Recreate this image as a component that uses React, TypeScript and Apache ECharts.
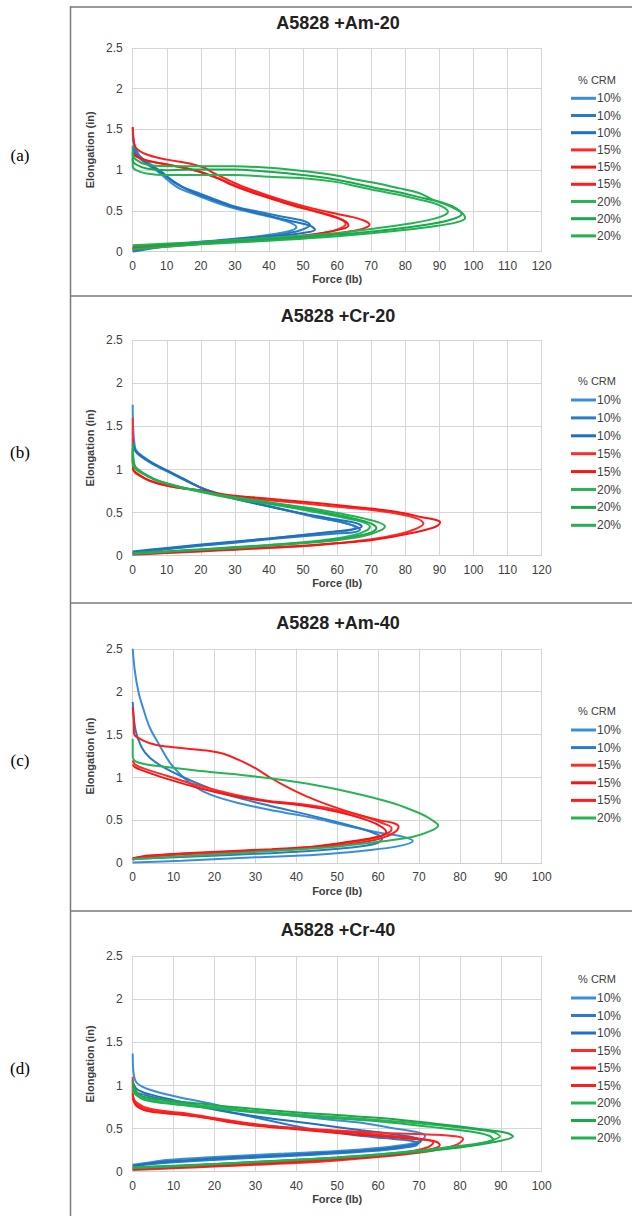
import React, { useEffect, useRef } from "react";
import * as echarts from "echarts";

// ---------- DATA ----------
const panelTitles = ["A5828 +Am-20", "A5828 +Cr-20", "A5828 +Am-40", "A5828 +Cr-40"];
const panelLetters = ["(a)", "(b)", "(c)", "(d)"];
const xMaxes = [120, 120, 100, 100];
const yTicksMax = 2.5;
const legendTitle = "% CRM";
const xAxisName = "Force (lb)";
const yAxisName = "Elongation (in)";

// Panel (a) A5828 +Am-20 : [force, elongation]
const aBlue1 = [[0,0.01],[8,0.06],[15,0.1],[25,0.14],[35,0.18],[42,0.22],[46.5,0.26],[48,0.3],[46.5,0.35],[42,0.41],[36,0.47],[30,0.53],[24,0.61],[19,0.69],[14,0.77],[10.5,0.87],[7.5,0.98],[4,1.08],[1.2,1.2],[0.3,1.32],[0,1.45]];
const aBlue2 = [[0,0.0],[8,0.055],[15,0.09],[25,0.13],[35,0.17],[43,0.21],[49,0.26],[52,0.33],[50,0.38],[44,0.43],[37,0.49],[30.5,0.55],[25,0.63],[20,0.71],[15,0.79],[11.5,0.88],[8.5,0.98],[5,1.08],[2,1.18],[0.5,1.3],[0,1.52]];
const aBlue3 = [[0,0.03],[8,0.07],[15,0.1],[25,0.135],[35,0.17],[44,0.2],[50,0.23],[53.5,0.27],[52,0.32],[47,0.37],[41,0.43],[34,0.5],[28,0.57],[22,0.66],[17,0.74],[12.5,0.84],[9,0.95],[5.5,1.05],[2.5,1.13],[0.8,1.2],[0,1.28]];
const aRed1 = [[0,0.03],[10,0.065],[20,0.095],[30,0.125],[40,0.155],[50,0.19],[56,0.23],[60.5,0.28],[62.5,0.34],[61,0.4],[57,0.46],[51,0.53],[45,0.61],[39,0.69],[33,0.77],[28,0.85],[24,0.92],[20,0.98],[15,1.03],[9,1.08],[4,1.12],[1,1.17],[0,1.22]];
const aRed2 = [[0,0.04],[10,0.07],[20,0.1],[30,0.13],[40,0.16],[50,0.2],[57,0.24],[61.5,0.28],[63.3,0.32],[62,0.38],[58,0.44],[52,0.51],[46,0.58],[40,0.66],[34,0.74],[29,0.82],[25,0.9],[21,0.96],[16,1.02],[10,1.07],[5,1.11],[1.5,1.16],[0,1.2]];
const aRed3 = [[0,0.05],[10,0.075],[20,0.1],[30,0.125],[40,0.15],[50,0.18],[58,0.21],[64,0.25],[68,0.29],[69.5,0.33],[68,0.38],[64,0.43],[58,0.48],[51,0.55],[45,0.62],[39,0.7],[33,0.79],[28,0.88],[24,0.96],[21,1.03],[17,1.08],[10,1.13],[5,1.18],[1.5,1.25],[0.5,1.32],[0,1.53]];
const aGreen1 = [[0,0.08],[20,0.12],[40,0.17],[60,0.23],[72,0.29],[82,0.35],[88,0.4],[91.5,0.45],[92.5,0.49],[91,0.55],[88,0.6],[84,0.64],[78,0.7],[71.6,0.75],[65,0.81],[59,0.86],[50,0.9],[40,0.92],[29.5,0.94],[18,0.94],[10,0.94],[4,0.96],[1,1.0],[0,1.05],[0,1.15]];
const aGreen2 = [[0,0.06],[20,0.11],[40,0.155],[60,0.21],[75,0.27],[86,0.33],[93,0.39],[96.5,0.46],[95,0.53],[91,0.6],[84,0.67],[78,0.73],[71.6,0.78],[65,0.84],[59,0.89],[50,0.94],[40,0.98],[29.5,1.01],[18,1.01],[10,1.0],[4,1.02],[1,1.07],[0,1.12],[0,1.22]];
const aGreen3 = [[0,0.03],[20,0.09],[40,0.135],[60,0.19],[76,0.25],[88,0.31],[95,0.36],[97.5,0.41],[96.5,0.48],[93,0.56],[88,0.64],[84,0.72],[78,0.78],[71.6,0.84],[65,0.89],[59,0.94],[50,0.99],[40,1.03],[29.5,1.05],[18,1.05],[10,1.05],[4,1.07],[1,1.13],[0,1.2],[0,1.3]];

// Panel (b) A5828 +Cr-20
const bBlue1 = [[0,0.04],[10,0.08],[20,0.12],[30,0.16],[40,0.2],[50,0.24],[58,0.27],[63,0.29],[65.5,0.32],[64,0.36],[59,0.41],[53,0.45],[45,0.53],[37.5,0.6],[29.5,0.67],[24.5,0.73],[20,0.79],[15,0.89],[10,0.99],[6,1.07],[3,1.15],[0.7,1.25],[0,1.75]];
const bBlue2 = [[0,0.03],[10,0.075],[20,0.115],[30,0.15],[40,0.19],[50,0.225],[59,0.255],[64.5,0.27],[66.7,0.3],[65.5,0.34],[61,0.39],[55,0.44],[47,0.51],[39,0.58],[31,0.65],[25.5,0.71],[21,0.77],[16,0.86],[11,0.96],[7,1.04],[3.5,1.12],[1,1.2],[0,1.3]];
const bBlue3 = [[0,0.05],[10,0.09],[20,0.13],[30,0.165],[40,0.2],[50,0.24],[59,0.28],[65,0.31],[67.2,0.34],[65.5,0.38],[60,0.42],[54,0.46],[46,0.52],[38,0.59],[30,0.66],[25,0.72],[20.5,0.78],[15.5,0.88],[10.5,0.98],[6.5,1.06],[3.2,1.14],[0.8,1.22],[0,1.35]];
const bRed1 = [[0,0.01],[10,0.03],[20,0.05],[30,0.07],[40,0.09],[50,0.11],[60,0.145],[70,0.19],[78,0.25],[83,0.31],[85.3,0.37],[83.5,0.43],[78.5,0.48],[69,0.535],[59,0.57],[49,0.61],[39,0.645],[30,0.68],[24,0.72],[19.8,0.76],[14.9,0.78],[10,0.81],[5,0.87],[2,0.93],[0.3,0.98],[0,1.1],[0,1.6]];
const bRed2 = [[0,0.02],[10,0.035],[20,0.055],[30,0.075],[40,0.095],[50,0.115],[60,0.145],[70,0.18],[79,0.24],[86,0.3],[89.5,0.35],[90.2,0.39],[88.5,0.42],[84.5,0.45],[80,0.49],[73.5,0.53],[64,0.57],[54,0.61],[44,0.645],[34.5,0.68],[27,0.71],[21,0.75],[15,0.78],[10,0.815],[5,0.87],[2,0.935],[0.3,0.99],[0,1.02]];
const bGreen1 = [[0,0.03],[10,0.05],[20,0.075],[30,0.1],[40,0.125],[50,0.155],[58,0.19],[65,0.24],[68.5,0.29],[69.6,0.34],[67.5,0.39],[63,0.43],[57,0.48],[49,0.54],[40,0.6],[30,0.66],[20,0.74],[13,0.8],[8,0.86],[4,0.93],[1,1.0],[0,1.08],[0,1.22]];
const bGreen2 = [[0,0.025],[10,0.048],[20,0.07],[30,0.095],[40,0.12],[50,0.15],[59,0.185],[66,0.23],[70,0.27],[71.5,0.32],[69.5,0.38],[65,0.43],[58,0.49],[50,0.55],[40,0.61],[30,0.67],[20,0.75],[12.5,0.81],[7.5,0.87],[3.5,0.95],[1,1.02],[0,1.1],[0,1.25]];
const bGreen3 = [[0,0.02],[10,0.045],[20,0.068],[30,0.09],[40,0.115],[50,0.145],[60,0.18],[68,0.23],[72.5,0.29],[74,0.34],[72,0.39],[68,0.43],[62,0.48],[54,0.54],[45,0.59],[35,0.65],[25,0.71],[17,0.77],[11,0.83],[6,0.89],[2.5,0.97],[0.7,1.03],[0,1.3]];

// Panel (c) A5828 +Am-40
const cBlue1 = [[0,0.01],[12,0.03],[30,0.07],[45,0.1],[57,0.15],[65,0.2],[68.5,0.26],[66,0.31],[60,0.36],[52,0.44],[44,0.53],[35,0.61],[26,0.7],[19,0.8],[15,0.9],[12,1.02],[9,1.18],[6.5,1.38],[4.2,1.58],[2.6,1.8],[1.4,2.0],[0.5,2.25],[0,2.5]];
const cBlue2 = [[0,0.05],[15,0.08],[30,0.11],[45,0.15],[56,0.2],[60,0.24],[61,0.29],[58,0.37],[51.5,0.46],[42.5,0.57],[34.5,0.66],[24.5,0.78],[18,0.89],[12.5,1.0],[7.5,1.12],[4.2,1.23],[2.2,1.35],[0.7,1.55],[0,1.88]];
const cRed1 = [[0,0.05],[3,0.08],[16,0.12],[33,0.155],[44,0.19],[54,0.25],[60,0.31],[63,0.37],[63.3,0.41],[61,0.47],[57,0.54],[49,0.63],[41,0.69],[33,0.73],[25,0.8],[16.5,0.9],[8.3,1.02],[3,1.1],[0.6,1.15],[0,1.2]];
const cRed2 = [[0,0.06],[4,0.09],[18,0.13],[34,0.165],[45,0.2],[54,0.26],[60,0.31],[62,0.36],[61,0.42],[57.5,0.5],[50,0.6],[42,0.67],[33,0.72],[24,0.79],[16,0.88],[8,0.99],[2.5,1.08],[0.5,1.12],[0,1.15]];
const cRed3 = [[0,0.04],[3,0.07],[15,0.11],[32,0.145],[44,0.18],[54,0.23],[60.5,0.29],[64,0.36],[65,0.43],[63.7,0.47],[60.5,0.5],[55.6,0.56],[49,0.66],[42.5,0.78],[37.7,0.89],[33.6,1.0],[30.3,1.1],[26.2,1.2],[22,1.28],[18.9,1.31],[12.4,1.34],[8.3,1.36],[4.2,1.4],[1,1.47],[0.3,1.52],[0.3,1.6],[0,1.82]];
const cGreen1 = [[0,0.05],[4,0.06],[15,0.09],[26,0.12],[38,0.155],[49,0.19],[60,0.25],[68.6,0.31],[73,0.38],[74.7,0.44],[73,0.51],[70.3,0.58],[63.7,0.7],[54,0.82],[42.5,0.93],[30.3,1.01],[18,1.07],[6.7,1.13],[1,1.18],[0,1.25],[0,1.45]];

// Panel (d) A5828 +Cr-40
const dBlue1 = [[0,0.08],[3,0.1],[8.3,0.135],[20,0.17],[37,0.21],[53,0.25],[63,0.29],[68.5,0.33],[71,0.38],[71.5,0.42],[69.4,0.46],[63,0.51],[57,0.56],[49,0.6],[41,0.64],[33,0.68],[26,0.72],[19,0.79],[10.8,0.87],[4.2,0.95],[1,1.03],[0.2,1.15],[0,1.37]];
const dBlue2 = [[0,0.06],[3,0.08],[10,0.11],[25,0.15],[42,0.19],[56,0.23],[65,0.27],[69,0.3],[69.8,0.33],[68,0.36],[61.3,0.39],[55,0.42],[49,0.46],[41,0.52],[32.8,0.6],[24.6,0.68],[16.5,0.75],[8.3,0.83],[3,0.89],[0.5,0.93],[0,0.98]];
const dBlue3 = [[0,0.07],[3,0.09],[9,0.12],[22,0.16],[40,0.2],[55,0.24],[64,0.28],[69,0.32],[70.5,0.36],[68.5,0.4],[63,0.44],[56,0.48],[48,0.53],[40,0.58],[32,0.63],[24,0.69],[17,0.76],[10,0.83],[4,0.9],[1,0.96],[0,1.05]];
const dRed1 = [[0,0.02],[10,0.04],[20,0.06],[30,0.08],[40,0.1],[50,0.13],[60,0.17],[70,0.22],[76,0.27],[79.5,0.32],[80.8,0.38],[79,0.41],[73.5,0.43],[61.3,0.45],[49,0.48],[36.8,0.52],[28.7,0.56],[23,0.6],[19,0.63],[12.4,0.68],[4.2,0.73],[1,0.8],[0,0.88],[0,1.1]];
const dRed2 = [[0,0.03],[10,0.05],[20,0.07],[30,0.09],[40,0.115],[50,0.145],[60,0.18],[68,0.22],[73,0.26],[75.1,0.31],[74,0.35],[69,0.38],[61,0.41],[50,0.45],[38,0.5],[29,0.54],[23,0.58],[18.5,0.62],[12,0.66],[4,0.7],[1,0.76],[0,0.85]];
const dRed3 = [[0,0.04],[10,0.06],[20,0.08],[30,0.1],[40,0.125],[50,0.155],[60,0.19],[67,0.23],[72,0.28],[73.5,0.34],[72,0.37],[67,0.4],[60,0.43],[49,0.47],[37.5,0.51],[29,0.55],[23.5,0.59],[19,0.62],[12.5,0.67],[4.5,0.71],[1,0.78],[0,0.9]];
const dGreen1 = [[0,0.05],[10,0.07],[20,0.09],[30,0.115],[40,0.14],[50,0.165],[60,0.2],[70,0.24],[80,0.29],[86,0.34],[89.8,0.41],[88,0.46],[82,0.5],[72,0.55],[60,0.6],[48,0.64],[36,0.68],[24.5,0.73],[16,0.77],[8,0.81],[2.5,0.85],[0.5,0.92],[0,0.98]];
const dGreen2 = [[0,0.04],[10,0.06],[20,0.085],[30,0.11],[40,0.135],[50,0.16],[60,0.19],[70,0.23],[80,0.28],[88,0.34],[93,0.41],[91.5,0.45],[85.7,0.49],[73.5,0.56],[61.3,0.62],[49,0.66],[36.8,0.7],[24.6,0.75],[16.5,0.79],[8.3,0.83],[2.6,0.87],[0.6,0.95],[0,1.06]];
const dGreen3 = [[0,0.045],[10,0.065],[20,0.088],[30,0.112],[40,0.138],[50,0.165],[60,0.2],[70,0.245],[78,0.29],[85,0.33],[88.2,0.37],[87,0.42],[82,0.47],[73,0.52],[61,0.58],[49,0.62],[37,0.66],[25,0.71],[16.5,0.75],[8.5,0.79],[3,0.83],[0.6,0.9],[0,0.95]];

const panelCurves = [
  [["10%", aBlue1], ["10%", aBlue2], ["10%", aBlue3], ["15%", aRed1], ["15%", aRed2], ["15%", aRed3], ["20%", aGreen1], ["20%", aGreen2], ["20%", aGreen3]],
  [["10%", bBlue1], ["10%", bBlue2], ["10%", bBlue3], ["15%", bRed1], ["15%", bRed2], ["20%", bGreen1], ["20%", bGreen2], ["20%", bGreen3]],
  [["10%", cBlue1], ["10%", cBlue2], ["15%", cRed1], ["15%", cRed2], ["15%", cRed3], ["20%", cGreen1]],
  [["10%", dBlue1], ["10%", dBlue2], ["10%", dBlue3], ["15%", dRed1], ["15%", dRed2], ["15%", dRed3], ["20%", dGreen1], ["20%", dGreen2], ["20%", dGreen3]],
] as [string, number[][]][][];

// ---------- STYLE / LAYOUT ----------
const blues = ["#3a8ed8", "#2a7bc7", "#1f70be"];
const reds = ["#ff2a2a", "#f51515", "#ff1e1e"];
const greens = ["#27b455", "#1aa84a", "#22b050"];
const FONT = '"Liberation Sans", Arial, sans-serif';
const GRID_LEFT = 132.7;
const GRID_W = 409;
const grids = [
  { top: 48, height: 203.7 },
  { top: 340.2, height: 215.5 },
  { top: 648.8, height: 214.5 },
  { top: 956.2, height: 215.5 },
];
const titleCenters = [25, 318, 625, 932];
const legendFirst = [98.3, 400, 730, 998];
const legendStep = [17.2, 17.9, 17.6, 17.5];
const letterY = [155, 452, 760, 1068];
const sepY = [7, 296, 603, 911];

function colorFor(label: string, idx: number) {
  if (label === "10%") return blues[idx % 3];
  if (label === "15%") return reds[idx % 3];
  return greens[idx % 3];
}

export default function App() {
  const ref = useRef<HTMLDivElement>(null);
  useEffect(() => {
    if (!ref.current) return;
    const chart = echarts.init(ref.current, null, { renderer: "svg" });
    const series: any[] = [];
    const legends: any[] = [];
    const titles: any[] = [];
    const xAxes: any[] = [];
    const yAxes: any[] = [];
    const gridOpts: any[] = [];
    const LINE_H = 14;
    panelCurves.forEach((curves, p) => {
      const names: string[] = [];
      const counts: Record<string, number> = {};
      curves.forEach(([label, data], i) => {
        const k = counts[label] || 0;
        counts[label] = k + 1;
        const name = `${panelLetters[p]}|${label}|${i}`;
        names.push(name);
        const c = colorFor(label, k);
        series.push({
          type: "line",
          name,
          xAxisIndex: p,
          yAxisIndex: p,
          data,
          showSymbol: false,
          symbol: "none",
          smooth: 0.35,
          lineStyle: { width: 2, color: c },
          itemStyle: { color: c },
          z: 3,
        });
      });
      gridOpts.push({ left: GRID_LEFT, width: GRID_W, top: grids[p].top, height: grids[p].height, containLabel: false });
      xAxes.push({
        type: "value",
        gridIndex: p,
        min: 0,
        max: xMaxes[p],
        interval: 10,
        name: xAxisName,
        nameLocation: "middle",
        nameGap: 22,
        nameTextStyle: { fontFamily: FONT, fontSize: 11, fontWeight: "bold", color: "#404040" },
        axisLine: { show: true, lineStyle: { color: "#d0d0d0", width: 1 } },
        axisTick: { show: false },
        axisLabel: { fontFamily: FONT, fontSize: 12, color: "#404040", margin: 8 },
        splitLine: { show: true, lineStyle: { color: "#d6d6d6", width: 1 } },
      });
      yAxes.push({
        type: "value",
        gridIndex: p,
        min: 0,
        max: yTicksMax,
        interval: 0.5,
        name: yAxisName,
        nameLocation: "middle",
        nameGap: 27,
        nameTextStyle: { fontFamily: FONT, fontSize: 11, fontWeight: "bold", color: "#404040" },
        axisLine: { show: false },
        axisTick: { show: false },
        axisLabel: { fontFamily: FONT, fontSize: 12, color: "#404040", margin: 10 },
        splitLine: { show: true, lineStyle: { color: "#d6d6d6", width: 1 } },
      });
      titles.push({
        text: panelTitles[p],
        left: 338,
        textAlign: "center",
        top: titleCenters[p] - 11,
        padding: 0,
        textStyle: { fontFamily: FONT, fontSize: 18, fontWeight: "bold", color: "#222" },
      });
      titles.push({
        text: legendTitle,
        left: 597,
        textAlign: "center",
        top: legendFirst[p] - legendStep[p] - 7,
        padding: 0,
        textStyle: { fontFamily: FONT, fontSize: 11, fontWeight: "normal", color: "#404040" },
      });
      legends.push({
        orient: "vertical",
        left: 571,
        top: legendFirst[p] - LINE_H / 2,
        padding: 0,
        itemGap: legendStep[p] - LINE_H,
        itemWidth: 25,
        itemHeight: 3,
        icon: "rect",
        data: names,
        selectedMode: false,
        formatter: (n: string) => n.split("|")[1],
        textStyle: { fontFamily: FONT, fontSize: 12, color: "#404040", lineHeight: LINE_H, padding: [0, 0, 0, -4] },
      });
    });

    const graphics: any[] = [];
    graphics.push({ type: "line", shape: { x1: 70.5, y1: 6.5, x2: 70.5, y2: 1216 }, style: { stroke: "#7a7a7a", lineWidth: 1.5 } });
    sepY.forEach((y) => {
      graphics.push({ type: "line", shape: { x1: 70, y1: y, x2: 632, y2: y }, style: { stroke: "#7a7a7a", lineWidth: 1.5 } });
    });
    panelLetters.forEach((t, p) => {
      graphics.push({
        type: "text",
        x: 20,
        y: letterY[p],
        style: { text: t, fontFamily: '"Liberation Serif", "Times New Roman", serif', fontSize: 17, fill: "#000", textAlign: "center", textVerticalAlign: "middle" },
      });
    });

    chart.setOption({
      animation: false,
      backgroundColor: "#ffffff",
      title: titles,
      legend: legends,
      grid: gridOpts,
      xAxis: xAxes,
      yAxis: yAxes,
      series,
      graphic: graphics,
    });
    return () => chart.dispose();
  }, []);
  return <div ref={ref} style={{ position: "absolute", left: 0, top: 0, width: 632, height: 1216, background: "#fff" }} />;
}
